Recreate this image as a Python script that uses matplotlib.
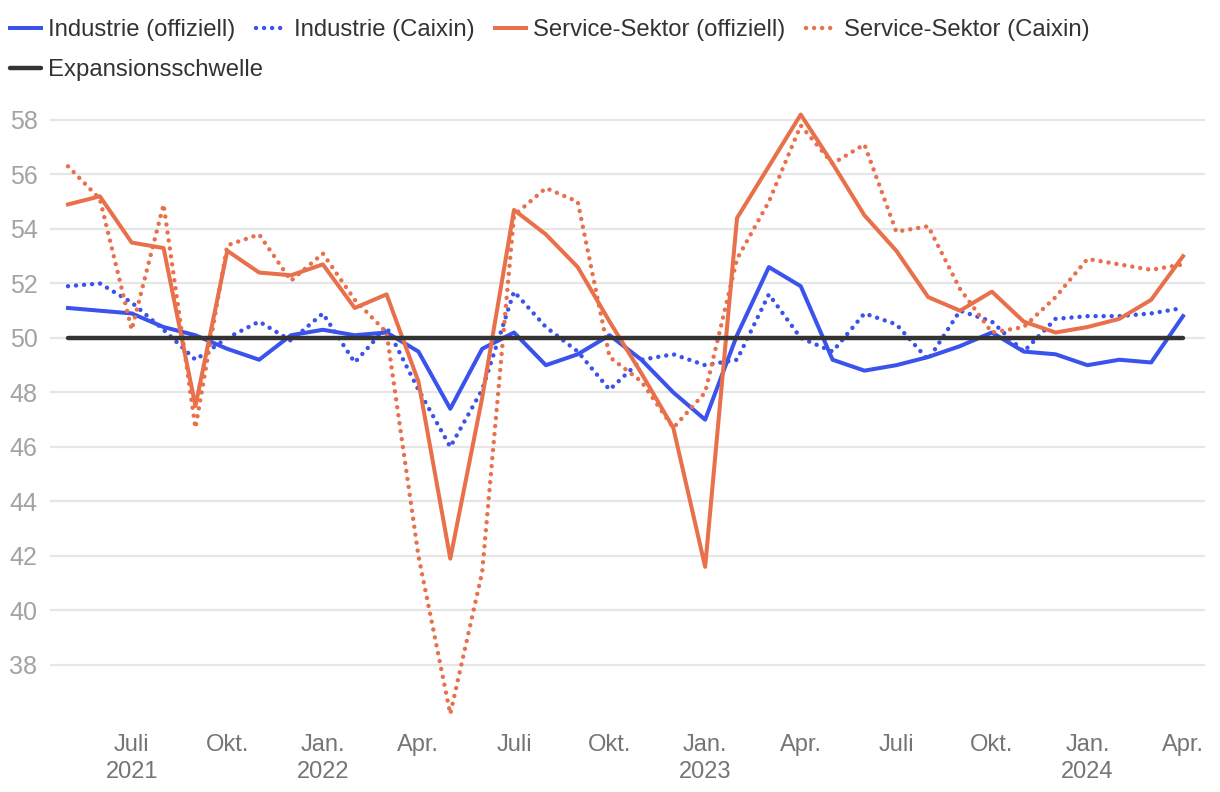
#!/usr/bin/env python3
"""China PMI: official vs. Caixin, manufacturing and services (May 2021 - Apr 2024)."""

import matplotlib
matplotlib.use("Agg")
import matplotlib.pyplot as plt
import numpy as np

plt.rcParams["font.family"] = ["Liberation Sans", "DejaVu Sans"]

# months as published (release month), May 2021 .. Apr 2024
MONTHS = ([f"2021-{m:02d}" for m in range(5, 13)] +
          [f"2022-{m:02d}" for m in range(1, 13)] +
          [f"2023-{m:02d}" for m in range(1, 13)] +
          [f"2024-{m:02d}" for m in range(1, 5)])

industry_official = [
    51.1, 51.0, 50.9, 50.4, 50.1, 49.6, 49.2, 50.1, 50.3,
    50.1, 50.2, 49.5, 47.4, 49.6, 50.2, 49.0, 49.4, 50.1, 49.2, 48.0, 47.0,
    50.1, 52.6, 51.9, 49.2, 48.8, 49.0, 49.3, 49.7, 50.2, 49.5, 49.4, 49.0,
    49.2, 49.1, 50.8,
]
industry_caixin = [
    51.9, 52.0, 51.3, 50.3, 49.2, 50.0, 50.6, 49.9, 50.9,
    49.1, 50.4, 48.1, 46.0, 48.1, 51.7, 50.4, 49.5, 48.1, 49.2, 49.4, 49.0,
    49.2, 51.6, 50.0, 49.5, 50.9, 50.5, 49.2, 51.0, 50.6, 49.5, 50.7, 50.8,
    50.8, 50.9, 51.1,
]
services_official = [
    54.9, 55.2, 53.5, 53.3, 47.5, 53.2, 52.4, 52.3, 52.7,
    51.1, 51.6, 48.4, 41.9, 47.8, 54.7, 53.8, 52.6, 50.6, 48.7, 46.7, 41.6,
    54.4, 56.3, 58.2, 56.4, 54.5, 53.2, 51.5, 51.0, 51.7, 50.6, 50.2, 50.4,
    50.7, 51.4, 53.0,
]
services_caixin = [
    56.3, 55.1, 50.3, 54.9, 46.7, 53.4, 53.8, 52.1, 53.1,
    51.4, 50.2, 42.0, 36.2, 41.4, 54.5, 55.5, 55.0, 49.3, 48.4, 46.7, 48.0,
    52.9, 55.0, 57.8, 56.4, 57.1, 53.9, 54.1, 51.8, 50.2, 50.4, 51.5, 52.9,
    52.7, 52.5, 52.7,
]
THRESHOLD = 50

# quarterly tick labels (index into MONTHS)
tick_idx = [2, 5, 8, 11, 14, 17, 20, 23, 26, 29, 32, 35]
tick_labels = ["Juli\n2021", "Okt.", "Jan.\n2022", "Apr.", "Juli", "Okt.",
               "Jan.\n2023", "Apr.", "Juli", "Okt.", "Jan.\n2024", "Apr."]
y_ticks = list(range(38, 59, 2))

BLUE = "#3a53ec"
ORANGE = "#e8704b"
DARK = "#333333"

fig = plt.figure(figsize=(12.2, 7.92), dpi=100)
ax = fig.add_axes([50 / 1220, 62 / 792, 1155 / 1220, 625 / 792])

x = np.arange(len(MONTHS))
LW = 2.9
DOT_LW = 3.2
dots = (0, (0.01, 1.8))

l1, = ax.plot(x, industry_official, color=BLUE, lw=LW)
l2, = ax.plot(x, industry_caixin, color=BLUE, lw=DOT_LW, linestyle=dots,
              dash_capstyle="round")
l3, = ax.plot(x, services_official, color=ORANGE, lw=LW)
l4, = ax.plot(x, services_caixin, color=ORANGE, lw=DOT_LW, linestyle=dots,
              dash_capstyle="round")
l5, = ax.plot(x, np.full(len(x), THRESHOLD), color=DARK, lw=3.2,
              solid_capstyle="round")

ax.set_xlim(-0.565, 35.69)
ax.set_ylim(35.61, 58.55)
ax.set_yticks(y_ticks)
ax.set_yticklabels([str(v) for v in y_ticks])
ax.set_xticks(tick_idx)
ax.set_xticklabels(tick_labels, linespacing=1.3)
ax.tick_params(axis="both", length=0)
ax.tick_params(axis="y", pad=9, labelsize=18, labelcolor="#a3a3a3")
ax.tick_params(axis="x", pad=3, labelsize=17, labelcolor="#757575")
ax.grid(axis="y", color="#e6e6e6", lw=1.6)
ax.set_axisbelow(True)
for s in ax.spines.values():
    s.set_visible(False)

legend_kw = dict(frameon=False, fontsize=17.2, handlelength=1.3,
                 handletextpad=0.3, columnspacing=0.85, labelcolor="#333333",
                 borderaxespad=0, borderpad=0)
fig.legend([l1, l2, l3, l4],
           ["Industrie (offiziell)", "Industrie (Caixin)",
            "Service-Sektor (offiziell)", "Service-Sektor (Caixin)"],
           loc="upper left", bbox_to_anchor=(10 / 1220, 1 - 19 / 792),
           ncol=4, **legend_kw)
fig.legend([l5], ["Expansionsschwelle"], loc="upper left",
           bbox_to_anchor=(10 / 1220, 1 - 59 / 792), **legend_kw)

fig.savefig("out.png", dpi=100)
